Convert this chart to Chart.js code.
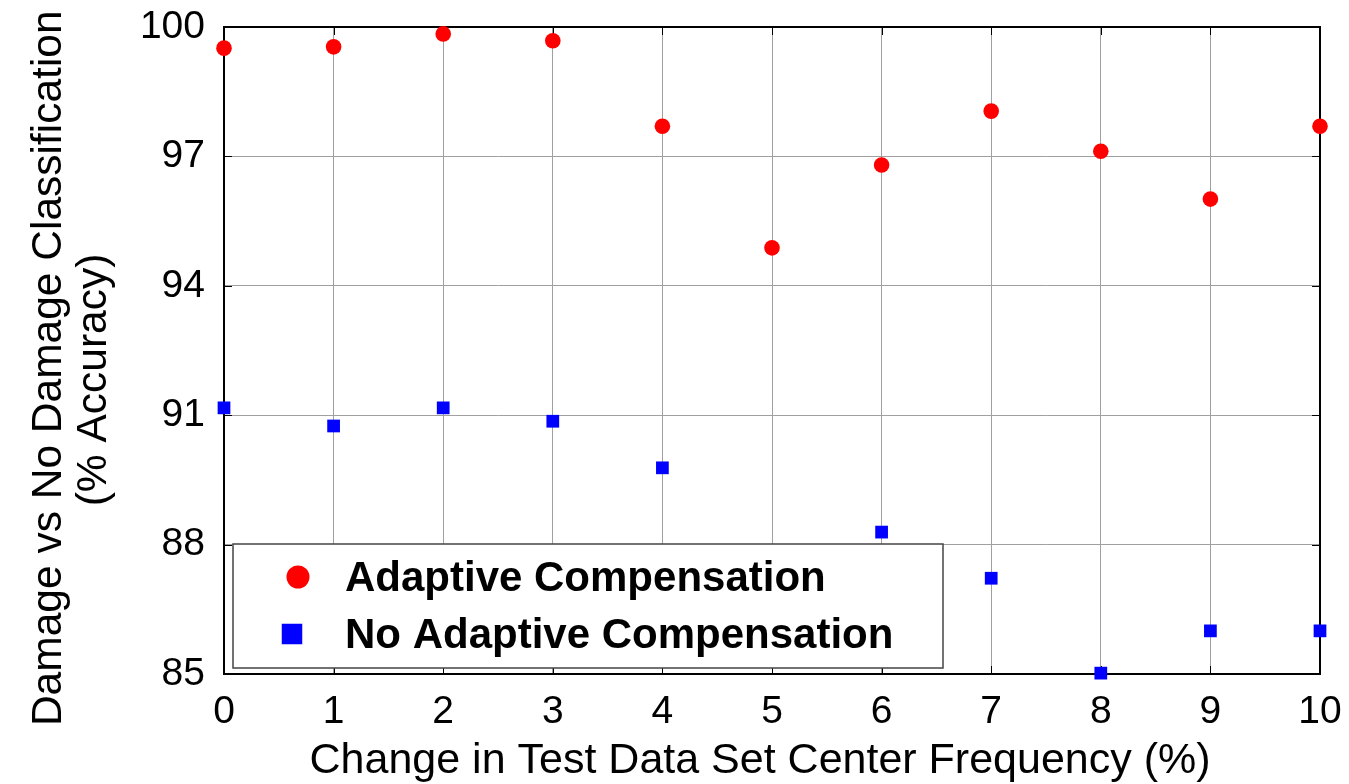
<!DOCTYPE html>
<html>
<head>
<meta charset="utf-8">
<script src="https://cdn.jsdelivr.net/npm/chart.js@4/dist/chart.umd.min.js"></script>
<style>
  html, body { margin: 0; padding: 0; background: #fff; }
  #wrap { width: 1349px; height: 784px; position: relative; }
</style>
</head>
<body>
<div id="wrap"><canvas id="c" width="1349" height="784"></canvas></div>
<script>
// ---- data ----
const freqChange = [0, 1, 2, 3, 4, 5, 6, 7, 8, 9, 10];
const adaptiveAcc = [99.51, 99.54, 99.84, 99.68, 97.70, 94.88, 96.80, 98.05, 97.12, 96.01, 97.70];
const noAdaptiveAcc = [91.17, 90.75, 91.17, 90.86, 89.78, 87.00, 88.29, 87.22, 85.02, 86.00, 86.00];
const seriesNames = ['Adaptive Compensation', 'No Adaptive Compensation'];
const yTicks = [85, 88, 91, 94, 97, 100];
const xTitle = 'Change in Test Data Set Center Frequency (%)';
const yTitle = ['Damage vs No Damage Classification', '(% Accuracy)'];

const FONT = "'Liberation Sans', Arial, Helvetica, sans-serif";

function toPoints(xs, ys) { return xs.map((x, i) => ({ x: x, y: ys[i] })); }

// frame + inner tick marks plugin (decoration only)
const framePlugin = {
  id: 'frame',
  beforeDatasetsDraw(chart) {
    const { ctx, chartArea: a, scales } = chart;
    ctx.save();
    ctx.strokeStyle = '#000';
    ctx.lineWidth = 1;
    const tl = 8;
    scales.x.ticks.forEach(t => {
      const px = Math.round(scales.x.getPixelForValue(t.value)) + 0.5;
      ctx.beginPath();
      ctx.moveTo(px, a.top); ctx.lineTo(px, a.top + tl);
      ctx.moveTo(px, a.bottom); ctx.lineTo(px, a.bottom - tl);
      ctx.stroke();
    });
    scales.y.ticks.forEach(t => {
      const py = Math.round(scales.y.getPixelForValue(t.value)) + 0.5;
      ctx.beginPath();
      ctx.moveTo(a.left, py); ctx.lineTo(a.left + tl, py);
      ctx.moveTo(a.right, py); ctx.lineTo(a.right - tl, py);
      ctx.stroke();
    });
    ctx.lineWidth = 2;
    ctx.beginPath();
    ctx.moveTo(a.left, a.top); ctx.lineTo(a.right, a.top); ctx.lineTo(a.right, a.bottom);
    ctx.stroke();
    ctx.restore();
  }
};

// legend drawn inside plot area, on top of the data
const boxLegend = {
  id: 'boxLegend',
  afterDatasetsDraw(chart, args, opts) {
    const { ctx } = chart;
    ctx.save();
    ctx.fillStyle = '#fff';
    ctx.fillRect(opts.x, opts.y, opts.w, opts.h);
    ctx.strokeStyle = opts.borderColor;
    ctx.lineWidth = opts.borderWidth;
    ctx.strokeRect(opts.x, opts.y, opts.w, opts.h);
    ctx.font = opts.font;
    ctx.textBaseline = 'middle';
    ctx.textAlign = 'left';
    chart.data.datasets.forEach((ds, i) => {
      const cy = opts.y + opts.rowStart + i * opts.rowGap;
      ctx.fillStyle = ds.pointBackgroundColor;
      ctx.strokeStyle = ds.pointBorderColor;
      Chart.helpers.drawPoint(ctx, {
        pointStyle: ds.pointStyle, radius: opts.markerRadius[i], rotation: 0, borderWidth: 0
      }, opts.x + opts.markerX[i], cy);
      ctx.fillStyle = '#000';
      ctx.fillText(ds.label, opts.x + opts.textX, cy + 2);
    });
    ctx.restore();
  }
};

new Chart(document.getElementById('c'), {
  type: 'scatter',
  data: {
    datasets: [
      {
        label: seriesNames[0],
        data: toPoints(freqChange, adaptiveAcc),
        pointStyle: 'circle',
        pointRadius: 7.8,
        pointHoverRadius: 7.8,
        pointBackgroundColor: '#ff0000',
        pointBorderColor: '#ff0000',
        pointBorderWidth: 0,
        showLine: false,
        clip: false
      },
      {
        label: seriesNames[1],
        data: toPoints(freqChange, noAdaptiveAcc),
        pointStyle: 'rect',
        pointRadius: 9,
        pointHoverRadius: 9,
        pointBackgroundColor: '#0000ff',
        pointBorderColor: '#0000ff',
        pointBorderWidth: 0,
        showLine: false,
        clip: false
      }
    ]
  },
  options: {
    responsive: false,
    animation: false,
    events: [],
    layout: { padding: { left: 0, top: 27, right: 29, bottom: 0 } },
    plugins: {
      legend: { display: false },
      tooltip: { enabled: false },
      boxLegend: {
        x: 233, y: 544, w: 710, h: 124,
        borderColor: '#444', borderWidth: 1.5,
        rowStart: 33, rowGap: 57,
        markerX: [65, 59], markerRadius: [11.5, 14.5], textX: 112,
        font: "bold 42px " + FONT
      }
    },
    scales: {
      x: {
        type: 'linear',
        min: 0, max: 10,
        afterFit(s) { s.height = 110; s.paddingLeft = 0; s.paddingRight = 0; },
        afterBuildTicks(s) { s.ticks = freqChange.map(v => ({ value: v })); },
        ticks: { stepSize: 1, padding: 15, color: '#000', font: { family: FONT, size: 39 }, maxRotation: 0 },
        grid: { color: '#a0a0a0', lineWidth: 1, drawTicks: false },
        border: { color: '#000', width: 2 },
        title: { display: true, text: xTitle + '  ', color: '#000', font: { family: FONT, size: 43, lineHeight: 1 }, padding: { top: 0, bottom: 1 } }
      },
      y: {
        type: 'linear',
        min: 85, max: 100,
        afterFit(s) { s.width = 224; s.paddingTop = 0; s.paddingBottom = 0; },
        afterBuildTicks(s) { s.ticks = yTicks.map(v => ({ value: v })); },
        ticks: { padding: 19, color: '#000', font: { family: FONT, size: 39 } },
        grid: { color: '#a0a0a0', lineWidth: 1, drawTicks: false },
        border: { color: '#000', width: 2 },
        title: { display: true, text: [yTitle[0] + '   ', yTitle[1] + '     '], color: '#000', font: { family: FONT, size: 42.5, lineHeight: 1.06 }, padding: { top: 27, bottom: 0 } }
      }
    }
  },
  plugins: [framePlugin, boxLegend]
});
</script>
</body>
</html>
